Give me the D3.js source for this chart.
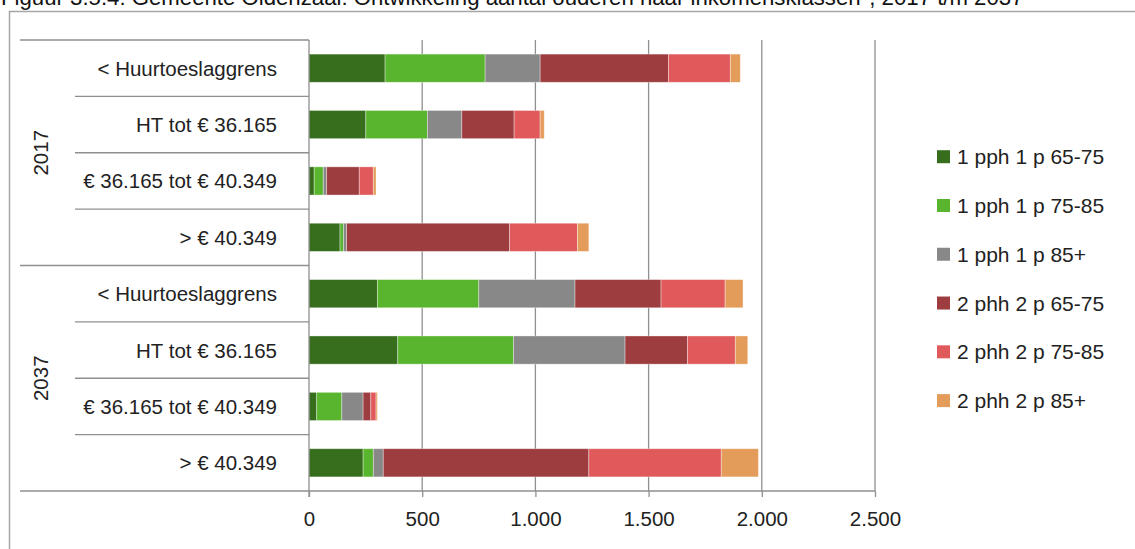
<!DOCTYPE html>
<html>
<head>
<meta charset="utf-8">
<script src="https://cdn.jsdelivr.net/npm/d3@7"></script>
<style>
  html, body { margin: 0; padding: 0; background: #fff; }
  svg { display: block; font-family: "Liberation Sans", Arial, sans-serif; }
</style>
</head>
<body>
<svg id="chart" width="1135" height="549"></svg>
<script>
// ---- data ----
const titleText = "Figuur 3.5.4: Gemeente Oldenzaal: Ontwikkeling aantal ouderen naar inkomensklassen*, 2017 t/m 2037";
const groups = ["2017", "2037"];
const incomeClasses = ["< Huurtoeslaggrens", "HT tot € 36.165", "€ 36.165 tot € 40.349", "> € 40.349"];
const seriesNames = ["1 pph 1 p 65-75", "1 pph 1 p 75-85", "1 pph 1 p 85+", "2 phh 2 p 65-75", "2 phh 2 p 75-85", "2 phh 2 p 85+"];
const seriesColors = ["#376E1E", "#5AB52E", "#888888", "#9D3D3F", "#E15A5B", "#E39C59"];
// values per row (group, income class), in order of seriesNames
const values2017 = [
  [336, 442, 243, 567, 273, 44],
  [251, 272, 152, 231, 115, 18],
  [23, 40, 15, 144, 62, 12],
  [137, 15, 14, 720, 300, 50]
];
const values2037 = [
  [302, 448, 425, 380, 283, 79],
  [392, 511, 493, 276, 211, 55],
  [34, 111, 94, 34, 23, 6],
  [239, 45, 44, 908, 585, 164]
];
const xTicks = [0, 500, 1000, 1500, 2000, 2500];

// ---- build rows ----
const rows = [];
[values2017, values2037].forEach((vals, gi) => {
  vals.forEach((v, ci) => {
    const row = { key: groups[gi] + "|" + incomeClasses[ci], group: groups[gi], label: incomeClasses[ci] };
    seriesNames.forEach((s, si) => row[s] = v[si]);
    rows.push(row);
  });
});

const svg = d3.select("#chart");
const plot = { left: 309, right: 875, top: 40, bottom: 491 };

// outer frame
svg.append("rect").attr("x", 9.5).attr("y", 11.5).attr("width", 1135).attr("height", 560)
  .attr("fill", "none").attr("stroke", "#a6a6a6").attr("stroke-width", 1.5);

// title (partly cut off at top, as in the reference)
svg.append("text").attr("x", 1).attr("y", 5).attr("font-size", 22.2).attr("fill", "#111")
  .text(titleText);

const x = d3.scaleLinear().domain([0, 2500]).range([plot.left, plot.right]);
const y = d3.scaleBand().domain(rows.map(r => r.key)).range([plot.top, plot.bottom])
  .paddingInner(0.5).paddingOuter(0.25);
const step = y.step();

const gridColor = "#8f8f8f";

// vertical gridlines
svg.append("g").selectAll("line").data(xTicks.slice(1)).join("line")
  .attr("x1", d => x(d)).attr("x2", d => x(d))
  .attr("y1", plot.top).attr("y2", plot.bottom)
  .attr("stroke", gridColor).attr("stroke-width", 1.3);

// stacked bars
const stack = d3.stack().keys(seriesNames);
const stacked = stack(rows);
const barsG = svg.append("g");
stacked.forEach((layer, si) => {
  barsG.append("g").attr("fill", seriesColors[si])
    .selectAll("rect").data(layer).join("rect")
    .attr("x", d => x(d[0]))
    .attr("width", d => x(d[1]) - x(d[0]))
    .attr("y", d => y(d.data.key))
    .attr("height", y.bandwidth())
    .attr("stroke", "#ffffff").attr("stroke-opacity", 0.45).attr("stroke-width", 0.8);
});

// category axis line
svg.append("line").attr("x1", plot.left).attr("x2", plot.left)
  .attr("y1", plot.top).attr("y2", plot.bottom + 6)
  .attr("stroke", gridColor).attr("stroke-width", 1.3);

// bottom axis with d3 axis
const xAxis = d3.axisBottom(x).tickValues(xTicks).tickSize(6).tickPadding(14)
  .tickFormat(d => d3.format(",")(d).replace(/,/g, "."));
const axG = svg.append("g").attr("transform", `translate(0,${plot.bottom})`).call(xAxis);
axG.select(".domain").remove();
axG.selectAll(".tick line").attr("stroke", gridColor).attr("stroke-width", 1.3);
axG.selectAll(".tick text").attr("font-size", 20.5).attr("fill", "#222")
  .attr("font-family", "Liberation Sans, Arial, sans-serif");
svg.append("line").attr("x1", 20).attr("x2", plot.right)
  .attr("y1", plot.bottom).attr("y2", plot.bottom)
  .attr("stroke", gridColor).attr("stroke-width", 1.3);

// category separators
const sepG = svg.append("g");
for (let i = 0; i < rows.length; i++) {
  const yy = plot.top + i * step;
  const isGroup = (i % incomeClasses.length) === 0;
  sepG.append("line").attr("x1", isGroup ? 20 : 75).attr("x2", plot.left)
    .attr("y1", yy).attr("y2", yy)
    .attr("stroke", gridColor).attr("stroke-width", 1.3);
}

// category labels
svg.append("g").selectAll("text").data(rows).join("text")
  .attr("x", 277).attr("y", d => y(d.key) + y.bandwidth() / 2)
  .attr("text-anchor", "end").attr("dominant-baseline", "central")
  .attr("font-size", 20.5).attr("fill", "#222")
  .text(d => d.label);

// group labels (rotated)
groups.forEach((g, gi) => {
  const cy = plot.top + (gi + 0.5) * incomeClasses.length * step;
  svg.append("text").attr("transform", `translate(40,${cy}) rotate(-90)`)
    .attr("text-anchor", "middle").attr("dominant-baseline", "central")
    .attr("font-size", 20.5).attr("fill", "#222").text(g);
});

// legend
const legY = d3.scalePoint().domain(seriesNames).range([156.7, 400.6]);
const leg = svg.append("g").selectAll("g").data(seriesNames).join("g")
  .attr("transform", d => `translate(937,${legY(d)})`);
leg.append("rect").attr("x", 0).attr("y", -6.5).attr("width", 13).attr("height", 13)
  .attr("fill", (d, i) => seriesColors[i]);
leg.append("text").attr("x", 20).attr("y", 0).attr("dominant-baseline", "central")
  .attr("font-size", 21).attr("fill", "#222").text(d => d);
</script>
</body>
</html>
